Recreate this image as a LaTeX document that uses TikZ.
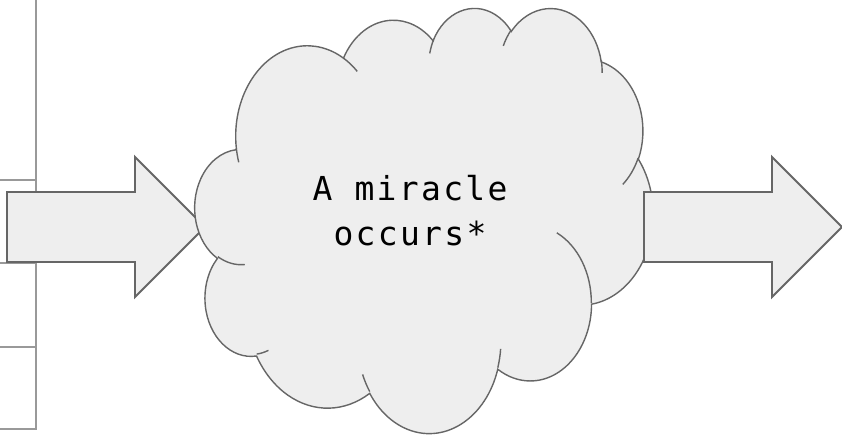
\documentclass[tikz,border=0pt]{standalone}
\usepackage{fontspec}
\setmonofont{DejaVu Sans Mono}
\definecolor{shapefill}{HTML}{EEEEEE}
\definecolor{shapeline}{HTML}{666666}
\definecolor{gridline}{HTML}{999999}
\begin{document}
\begin{tikzpicture}[x=1pt, y=-1pt,
    blockarrow/.style={fill=shapefill, draw=shapeline, line width=1.9pt},
    cloudline/.style={draw=shapeline, line width=1.4pt},
    gridrule/.style={draw=gridline, line width=1.8pt}]
	\useasboundingbox (0,0) rectangle (842,435);
	% table edge on the left
	\draw[gridrule] (36,0) -- (36,430);
	\foreach \y in {180,263,346.7,429.3}
		\draw[gridrule] (0,\y) -- (36,\y);
	% input arrow
	\filldraw[blockarrow] (7,192) -- (135,192) -- (135,157) -- (205,227)
		-- (135,297) -- (135,262) -- (7,262) -- cycle;
	% the cloud, one arc per lobe
	\begin{scope}[shift={(195,7)}, x=10.602pt, y=-9.838pt]
		\filldraw[cloudline, fill=shapefill] (3.9,14.37)
			arc[start angle=172.25, delta angle=128.11, x radius=6.753, y radius=9.19]
			arc[start angle=-152.02, delta angle=106.61, x radius=5.333, y radius=7.267]
			arc[start angle=-153.48, delta angle=116.16, x radius=4.365, y radius=5.945]
			arc[start angle=-139.69, delta angle=129.48, x radius=4.857, y radius=6.595]
			arc[start angle=-74.77, delta angle=97.98, x radius=5.333, y radius=7.273]
			arc[start angle=-37.52, delta angle=119.38, x radius=6.775, y radius=9.22]
			arc[start angle=0.46, delta angle=121.52, x radius=5.785, y radius=7.867]
			arc[start angle=16.84, delta angle=129.39, x radius=6.752, y radius=9.215]
			arc[start angle=58.98, delta angle=91.22, x radius=7.72, y radius=10.543]
			arc[start angle=83.31, delta angle=139.82, x radius=4.36, y radius=5.918]
			arc[start angle=120.36, delta angle=143.75, x radius=4.345, y radius=5.945]
			-- cycle;
		% inner hooks
		\draw[cloudline]
			(4.693,26.177) arc[start angle=85.55, delta angle=34.81, x radius=4.345, y radius=5.945]
			(6.928,34.899) arc[start angle=68.23, delta angle=15.08, x radius=4.36, y radius=5.918]
			(16.478,39.09) arc[start angle=146.23, delta angle=12.24, x radius=6.752, y radius=9.215]
			(28.827,34.751) arc[start angle=4.74, delta angle=12.1, x radius=6.752, y radius=9.215]
			(34.129,22.954) arc[start angle=-64.04, delta angle=64.5, x radius=5.785, y radius=7.867]
			(41.798,15.354) arc[start angle=23.21, delta angle=26.43, x radius=5.333, y radius=7.273]
			(38.324,5.426) arc[start angle=-10.21, delta angle=11.03, x radius=4.857, y radius=6.595]
			(29.078,3.952) arc[start angle=-156.28, delta angle=16.59, x radius=4.857, y radius=6.595]
			(22.141,4.72) arc[start angle=-167.73, delta angle=14.39, x radius=4.365, y radius=5.945]
			(14,5.192) arc[start angle=-59.64, delta angle=13.92, x radius=6.753, y radius=9.19]
			(4.127,15.789) arc[start angle=163.19, delta angle=9.06, x radius=6.753, y radius=9.19];
	\end{scope}
	\node[align=center, font=\ttfamily\fontsize{33}{45}\selectfont\addfontfeature{LetterSpace=7}]
		(miracle) at (410,211) {A miracle\\occurs*};
	% output arrow
	\filldraw[blockarrow] (644,192) -- (772,192) -- (772,157) -- (842,227)
		-- (772,297) -- (772,262) -- (644,262) -- cycle;
\end{tikzpicture}
\end{document}
